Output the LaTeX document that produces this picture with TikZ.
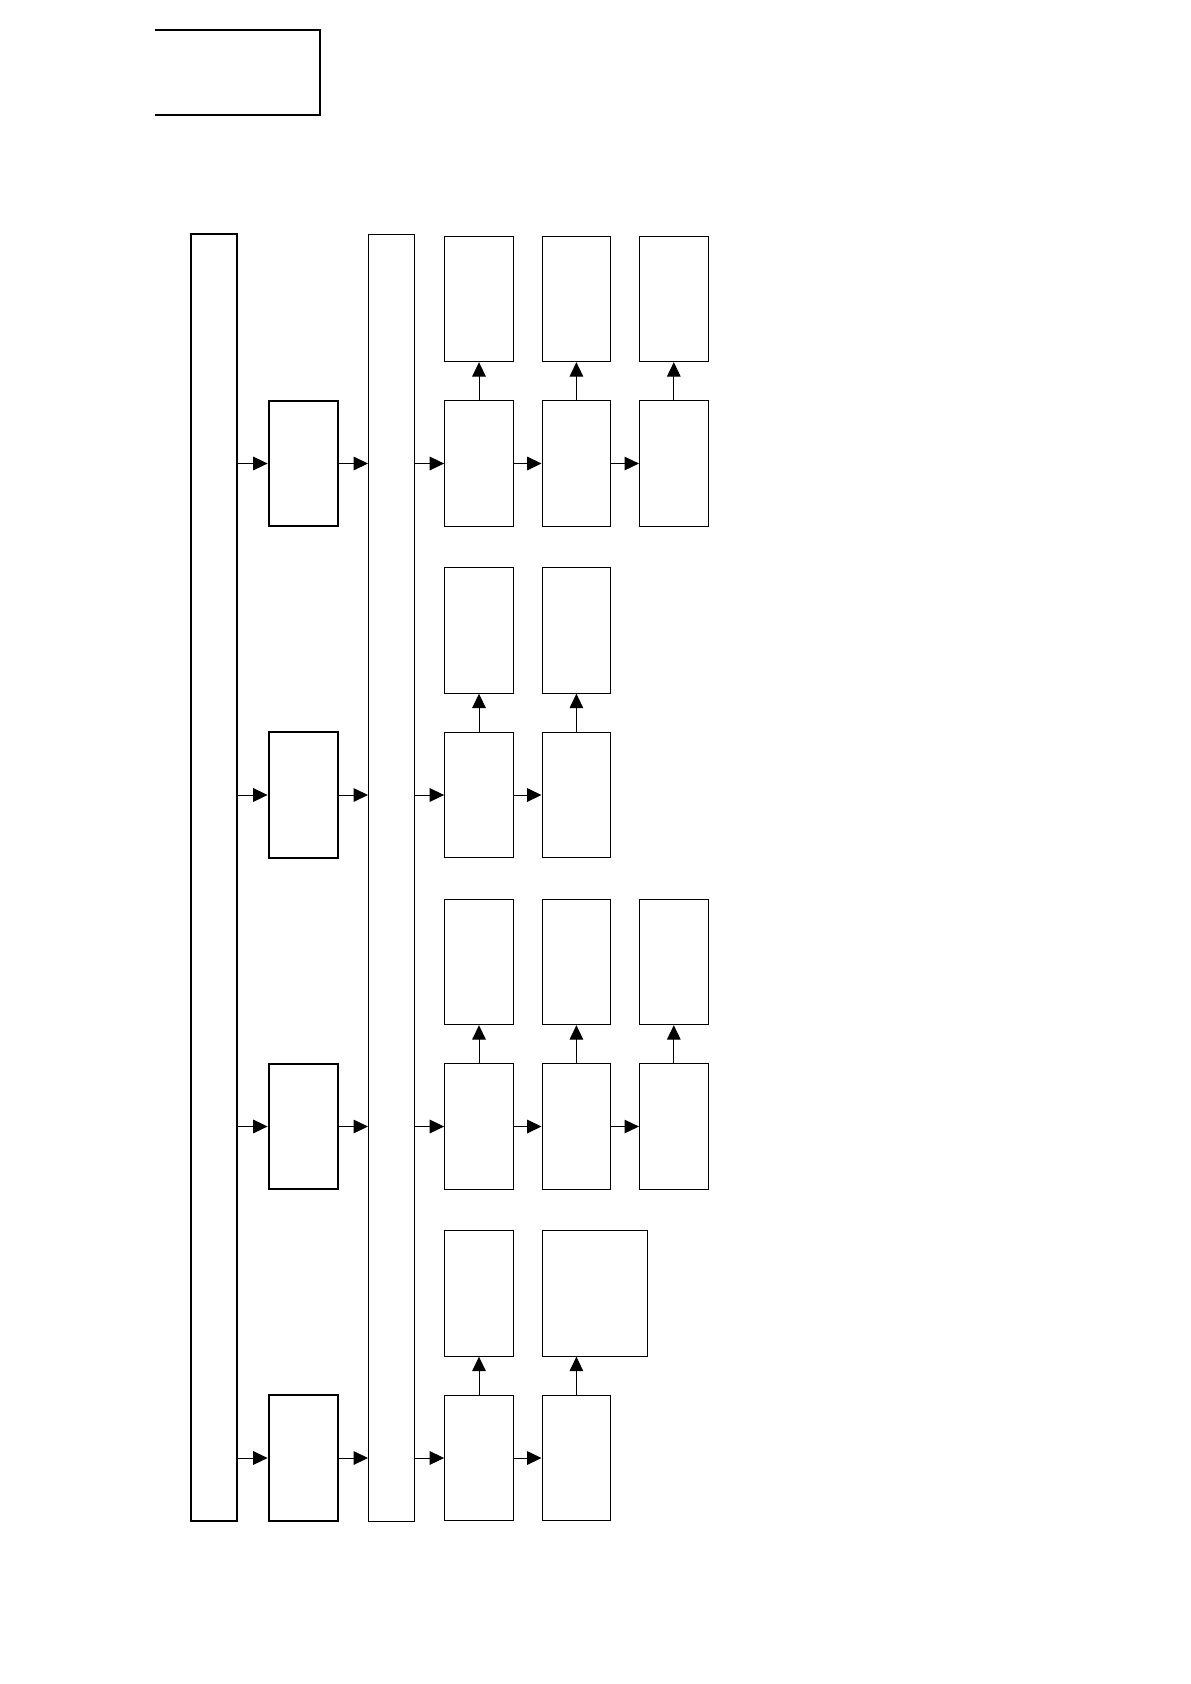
\documentclass[tikz,border=0pt]{standalone}
\usepackage{tikz}
\usetikzlibrary{arrows.meta,positioning}
\definecolor{ink}{RGB}{0,0,0}
\tikzset{
  flow/.style={-{Triangle[length=3.6mm,width=3.4mm]},line width=0.25mm,draw=ink},
  busbar/.style={draw=ink,line width=0.5mm,minimum width=11.5mm,minimum height=321.7mm,inner sep=0pt},
  hubbar/.style={draw=ink,line width=0.25mm,minimum width=11.5mm,minimum height=321.5mm,inner sep=0pt},
  gate/.style={draw=ink,line width=0.5mm,minimum width=17.4mm,minimum height=31.4mm,inner sep=0pt},
  cell/.style={draw=ink,line width=0.25mm,minimum width=17.2mm,minimum height=31.4mm,inner sep=0pt}
}
\begin{document}
\begin{tikzpicture}[x=0.25mm,y=0.25mm,node distance=9.5mm and 6.9mm]
  \useasboundingbox (0,0) rectangle (1190,-1684);
  % header box, open on the left
  \node[minimum width=41.25mm,minimum height=21.25mm,inner sep=0pt] (head) at (237.5,-72.5) {};
  \draw[line width=0.5mm,draw=ink] (head.north west)--(head.north east)--(head.south east)--(head.south west);
  % the two tall bars
  \node[busbar] (bus) at (214.3,-877.5) {};
  \node[hubbar] (hub) at (391.5,-878) {};
  % second column
  \node[gate] (gate1) at (303.4,-463.5) {};
  \node[gate] (gate2) at (303.4,-795) {};
  \node[gate] (gate3) at (303.4,-1126.5) {};
  \node[gate] (gate4) at (303.4,-1458) {};
  % row 1
  \node[cell] (a1) at (479,-463.5) {};
  \node[cell,right=of a1] (b1) {};
  \node[cell,right=of b1] (c1) {};
  \node[cell,above=of a1] (a1up) {};
  \node[cell,above=of b1] (b1up) {};
  \node[cell,above=of c1] (c1up) {};
  % row 2
  \node[cell] (a2) at (479,-795) {};
  \node[cell,right=of a2] (b2) {};
  \node[cell,above=of a2] (a2up) {};
  \node[cell,above=of b2] (b2up) {};
  % row 3
  \node[cell] (a3) at (479,-1126.5) {};
  \node[cell,right=of a3] (b3) {};
  \node[cell,right=of b3] (c3) {};
  \node[cell,above=of a3] (a3up) {};
  \node[cell,above=of b3] (b3up) {};
  \node[cell,above=of c3] (c3up) {};
  % row 4
  \node[cell] (a4) at (479,-1458) {};
  \node[cell,right=of a4] (b4) {};
  \node[cell,above=of a4] (a4up) {};
  \node[cell,above=of b4.north west,anchor=south west,minimum width=26.4mm] (b4up) {};
  % connectors
  \draw[flow] (bus.east |- gate1)--(gate1); \draw[flow] (gate1)--(hub.west |- gate1); \draw[flow] (hub.east |- a1)--(a1);
  \draw[flow] (bus.east |- gate2)--(gate2); \draw[flow] (gate2)--(hub.west |- gate2); \draw[flow] (hub.east |- a2)--(a2);
  \draw[flow] (bus.east |- gate3)--(gate3); \draw[flow] (gate3)--(hub.west |- gate3); \draw[flow] (hub.east |- a3)--(a3);
  \draw[flow] (bus.east |- gate4)--(gate4); \draw[flow] (gate4)--(hub.west |- gate4); \draw[flow] (hub.east |- a4)--(a4);
  \draw[flow] (a1)--(b1); \draw[flow] (b1)--(c1);
  \draw[flow] (a2)--(b2);
  \draw[flow] (a3)--(b3); \draw[flow] (b3)--(c3);
  \draw[flow] (a4)--(b4);
  \draw[flow] (a1)--(a1up); \draw[flow] (b1)--(b1up); \draw[flow] (c1)--(c1up);
  \draw[flow] (a2)--(a2up); \draw[flow] (b2)--(b2up);
  \draw[flow] (a3)--(a3up); \draw[flow] (b3)--(b3up); \draw[flow] (c3)--(c3up);
  \draw[flow] (a4)--(a4up); \draw[flow] (b4.north)--(b4.north |- b4up.south);
\end{tikzpicture}
\end{document}
